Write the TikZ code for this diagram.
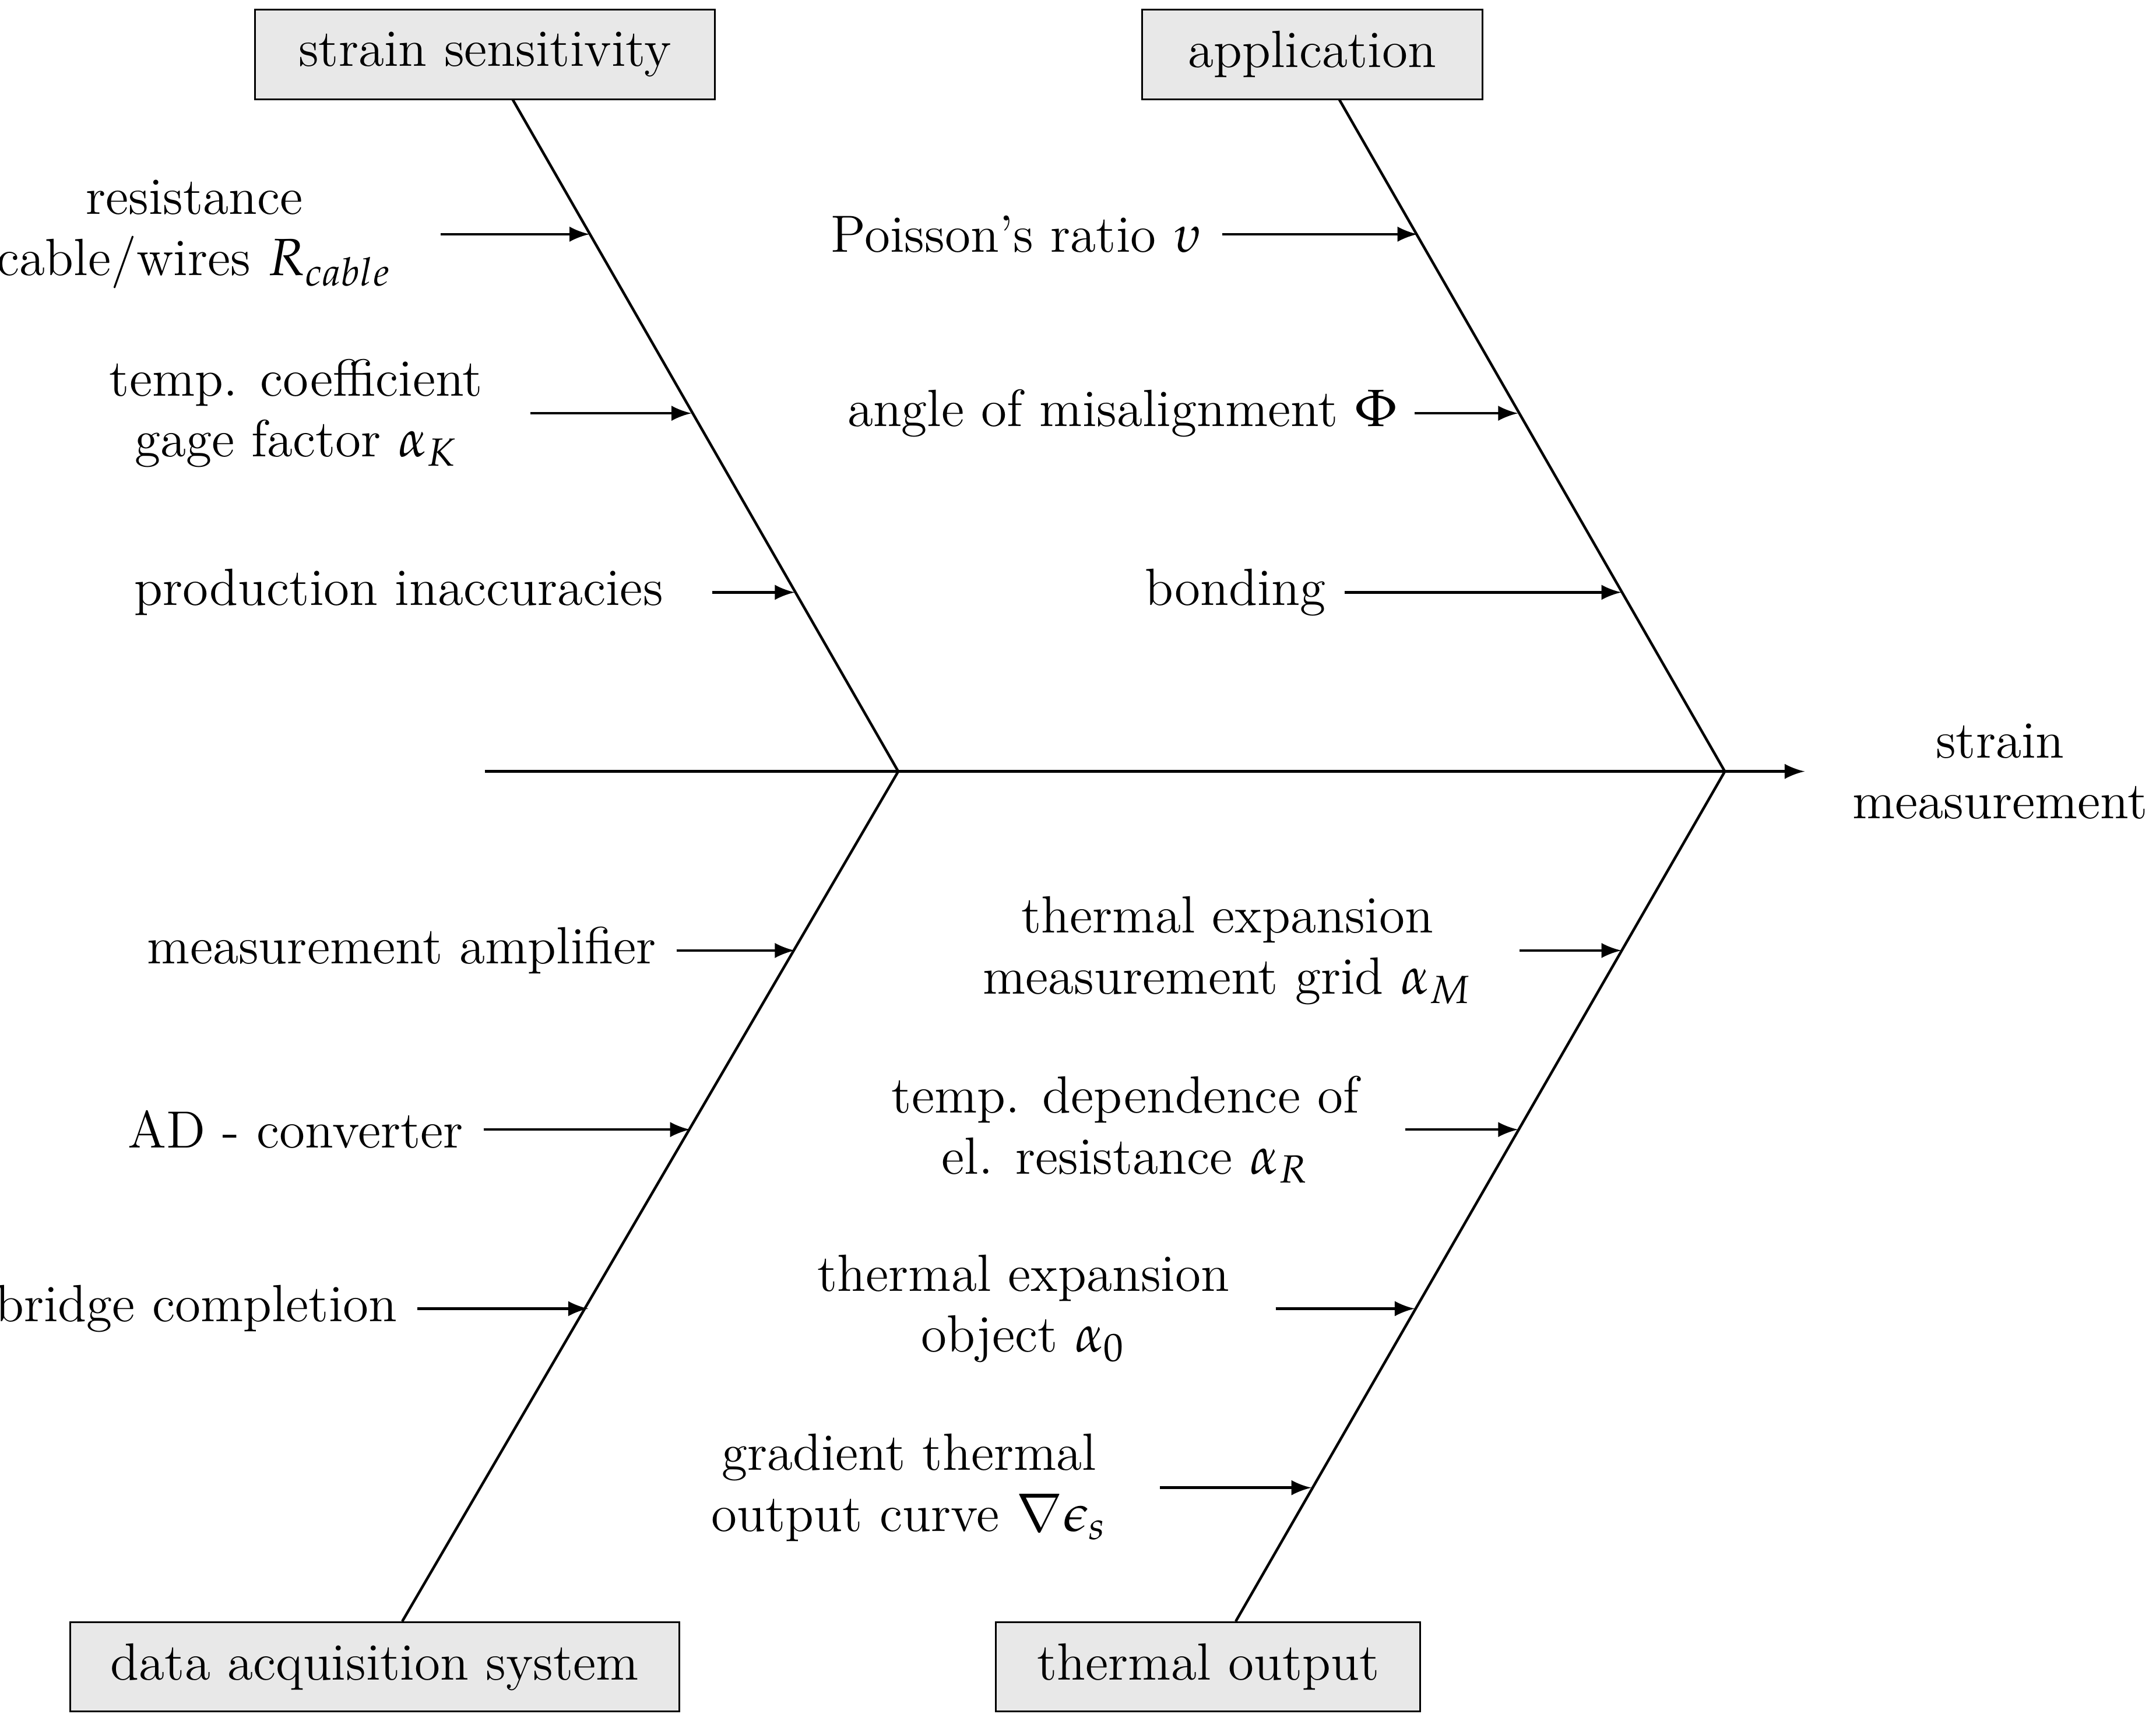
\documentclass[tikz,border=0pt]{standalone}
\usepackage{mathpazo}
\begin{document}
\begin{tikzpicture}[x=0.0111cm,y=-0.0111cm,
  box/.style={draw,fill=gray!18,minimum height=65*0.0111cm,font=\bfseries,inner sep=0pt},
  lab/.style={anchor=east,align=center,font=\large,inner sep=0pt},
  bone/.style={line width=0.6pt},
  arr/.style={-latex,line width=0.6pt}]
\useasboundingbox (0,0) rectangle (1565,1249);
\node[box,minimum width=334*0.0111cm] (b1) at (352,39.5) {\large strain sensitivity};
\node[box,minimum width=247*0.0111cm] (b2) at (952.5,39.5) {\large application};
\node[box,minimum width=442*0.0111cm] (b3) at (272,1210) {\large data acquisition system};
\node[box,minimum width=308*0.0111cm] (b4) at (877,1210) {\large thermal output};
\coordinate (s0) at (352,560);
\coordinate (j1) at (652,560);
\coordinate (j2) at (1252,560);
\coordinate (tip) at (1310,560);
\coordinate (t1) at (372,72);
\coordinate (t2) at (972,72);
\coordinate (t3) at (292,1177);
\coordinate (t4) at (897,1177);
\node[font=\large\bfseries,align=center,anchor=west,inner sep=0pt] (res) at (1344,560) {strain\\measurement};
\draw[bone] (s0) -- (j1) -- (j2);
\draw[arr] (j2) -- (tip);
\draw[bone] (t1) -- (j1) -- (t3);
\draw[bone] (t2) -- (j2) -- (t4);
% arrows
\foreach \n/\a/\b/\y in {a1/320/428/170, a2/385/502/300, a3/517/577/430,
  a4/887/1029/170, a5/1027/1102/300, a6/976/1177/430,
  a7/491/577/690, a8/351/501/820, a9/303/427/950,
  a10/1103/1177/690, a11/1020/1102/820, a12/926/1027/950, a13/842/952/1080}{
  \coordinate (\n s) at (\a,\y); \coordinate (\n e) at (\b,\y);
  \draw[arr] (\n s) -- (\n e);}
\node[lab] (l1) at ([xshift=-35*0.0111cm]a1s) {resistance\\cable/wires $R_{cable}$};
\node[lab] (l2) at ([xshift=-34*0.0111cm]a2s) {temp. coefficient\\gage factor $\alpha_K$};
\node[lab] (l3) at ([xshift=-35*0.0111cm]a3s) {production inaccuracies};
\node[lab] (l4) at ([xshift=-14*0.0111cm]a4s) {Poisson's ratio $\upsilon$};
\node[lab] (l5) at ([xshift=-12*0.0111cm]a5s) {angle of misalignment $\Phi$};
\node[lab] (l6) at ([xshift=-13*0.0111cm]a6s) {bonding};
\node[lab] (l7) at ([xshift=-14*0.0111cm]a7s) {measurement amplifier};
\node[lab] (l8) at ([xshift=-14*0.0111cm]a8s) {AD - converter};
\node[lab] (l9) at ([xshift=-14*0.0111cm]a9s) {bridge completion};
\node[lab] (l10) at ([xshift=-34*0.0111cm]a10s) {thermal expansion\\measurement grid $\alpha_M$};
\node[lab] (l11) at ([xshift=-33*0.0111cm]a11s) {temp. dependence of\\el. resistance $\alpha_R$};
\node[lab] (l12) at ([xshift=-33*0.0111cm]a12s) {thermal expansion\\object $\alpha_0$};
\node[lab] (l13) at ([xshift=-38*0.0111cm]a13s) {gradient thermal\\output curve $\nabla\epsilon_s$};
\end{tikzpicture}
\end{document}
